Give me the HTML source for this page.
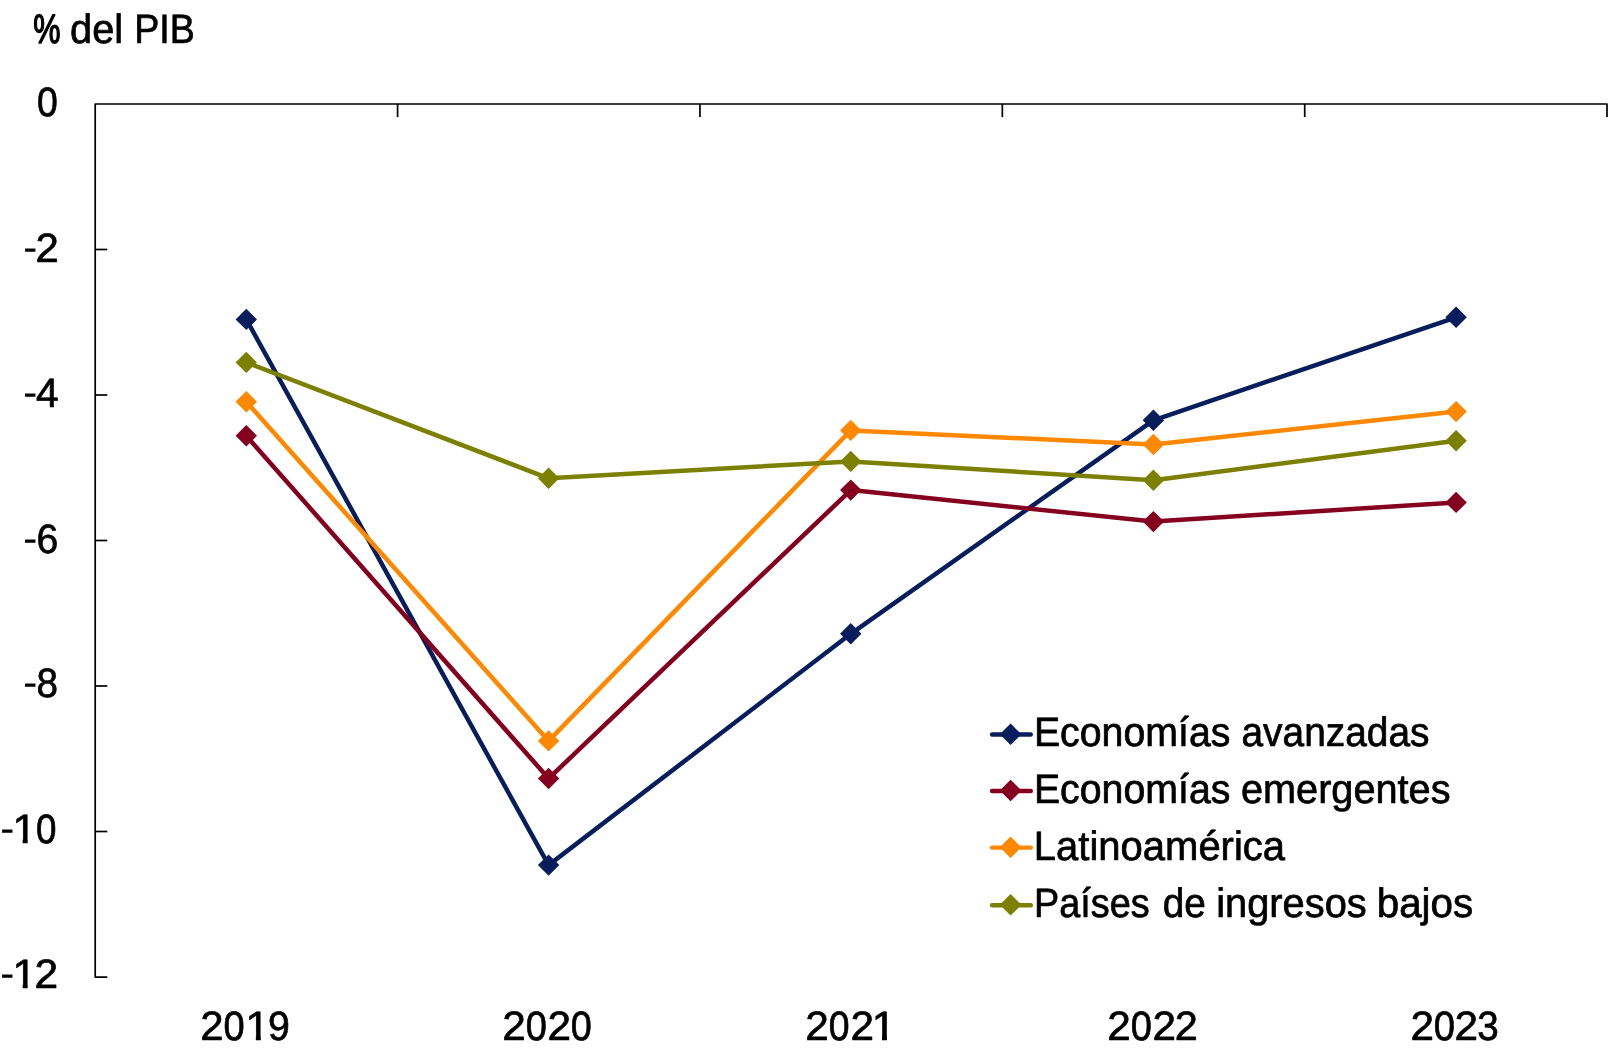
<!DOCTYPE html>
<html><head><meta charset="utf-8"><title>chart</title>
<style>
html,body{margin:0;padding:0;background:#fff;}
body{width:1620px;height:1057px;overflow:hidden;}
svg{display:block;will-change:transform;}
text{font-family:"Liberation Sans",sans-serif;font-size:41px;fill:#000;stroke:#000;stroke-width:0.7px;stroke-linejoin:round;text-rendering:geometricPrecision;}
</style></head><body>
<svg width="1620" height="1057" viewBox="0 0 1620 1057">
<defs><clipPath id="c1"><path d="M-1-32H29V-4.3H14.45V1H9.75V-4.3H-1Z"/></clipPath></defs>
<rect width="1620" height="1057" fill="#fff"/>

<g stroke="#000" stroke-width="1.7" fill="none" stroke-linecap="butt">
<path d="M107.3 977.1H95.2V104.0H1607.0V117.1" stroke-linejoin="round"/>
<path d="M95.2 249.5H107.3"/>
<path d="M95.2 395.0H107.3"/>
<path d="M95.2 540.5H107.3"/>
<path d="M95.2 686.0H107.3"/>
<path d="M95.2 831.5H107.3"/>
<path d="M397.58 104.0V117.1"/>
<path d="M699.96 104.0V117.1"/>
<path d="M1002.34 104.0V117.1"/>
<path d="M1304.72 104.0V117.1"/>
</g>
<polyline points="246.3,319.4 548.6,865.1 850.8,633.8 1153.4,420.3 1456.1,317.3" fill="none" stroke="#081E5C" stroke-width="4.5" stroke-linejoin="round" stroke-linecap="round"/>
<path d="M235.60 319.40L246.30 308.70L257.00 319.40L246.30 330.10ZM537.90 865.10L548.60 854.40L559.30 865.10L548.60 875.80ZM840.05 633.80L850.75 623.10L861.45 633.80L850.75 644.50ZM1142.70 420.30L1153.40 409.60L1164.10 420.30L1153.40 431.00ZM1445.40 317.30L1456.10 306.60L1466.80 317.30L1456.10 328.00Z" fill="#081E5C"/>
<polyline points="246.3,435.8 548.6,778.5 850.8,490.1 1153.4,521.6 1456.1,502.4" fill="none" stroke="#85001F" stroke-width="4.5" stroke-linejoin="round" stroke-linecap="round"/>
<path d="M235.60 435.80L246.30 425.10L257.00 435.80L246.30 446.50ZM537.90 778.50L548.60 767.80L559.30 778.50L548.60 789.20ZM840.05 490.10L850.75 479.40L861.45 490.10L850.75 500.80ZM1142.70 521.60L1153.40 510.90L1164.10 521.60L1153.40 532.30ZM1445.40 502.40L1456.10 491.70L1466.80 502.40L1456.10 513.10Z" fill="#85001F"/>
<polyline points="246.3,401.8 548.6,740.9 850.8,430.4 1153.4,444.5 1456.1,411.6" fill="none" stroke="#FF8800" stroke-width="4.5" stroke-linejoin="round" stroke-linecap="round"/>
<path d="M235.60 401.80L246.30 391.10L257.00 401.80L246.30 412.50ZM537.90 740.90L548.60 730.20L559.30 740.90L548.60 751.60ZM840.05 430.40L850.75 419.70L861.45 430.40L850.75 441.10ZM1142.70 444.50L1153.40 433.80L1164.10 444.50L1153.40 455.20ZM1445.40 411.60L1456.10 400.90L1466.80 411.60L1456.10 422.30Z" fill="#FF8800"/>
<polyline points="246.3,362.4 548.6,478.3 850.8,461.4 1153.4,480.3 1456.1,440.8" fill="none" stroke="#7B8000" stroke-width="4.5" stroke-linejoin="round" stroke-linecap="round"/>
<path d="M235.60 362.40L246.30 351.70L257.00 362.40L246.30 373.10ZM537.90 478.30L548.60 467.60L559.30 478.30L548.60 489.00ZM840.05 461.40L850.75 450.70L861.45 461.40L850.75 472.10ZM1142.70 480.30L1153.40 469.60L1164.10 480.30L1153.40 491.00ZM1445.40 440.80L1456.10 430.10L1466.80 440.80L1456.10 451.50Z" fill="#7B8000"/>
<g><text transform="translate(33.13 43) scale(0.7475 1.0000)" style="stroke-width:1.4px">%</text> <text transform="translate(70.06 43) scale(0.9696 1.0000)">del</text> <text transform="translate(134.13 43) scale(0.9175 1.0000)">PIB</text></g>
<g><text transform="translate(36.96 116) scale(0.9115 1.0000)">0</text></g>
<g><text transform="translate(23.34 261) scale(1.0190 1.0000)" style="stroke-width:0.2px">-</text><text transform="translate(35.50 262) scale(1.0220 1.0000)">2</text></g>
<g><text transform="translate(23.34 406) scale(1.0190 1.0000)" style="stroke-width:0.2px">-</text><text transform="translate(36.11 407) scale(0.9926 1.0000)">4</text></g>
<g><text transform="translate(23.34 552) scale(1.0190 1.0000)" style="stroke-width:0.2px">-</text><text transform="translate(36.44 553) scale(0.9559 1.0000)">6</text></g>
<g><text transform="translate(23.34 696) scale(1.0190 1.0000)" style="stroke-width:0.2px">-</text><text transform="translate(36.55 697) scale(0.9434 1.0000)">8</text></g>
<g><text transform="translate(0.34 842) scale(1.0190 1.0000)" style="stroke-width:0.2px">-</text><text transform="translate(12.45 843) scale(1.0500 1)" clip-path="url(#c1)">1</text><text transform="translate(35.98 843) scale(0.8967 1.0000)">0</text></g>
<g><text transform="translate(0.34 987) scale(1.0190 1.0000)" style="stroke-width:0.2px">-</text><text transform="translate(12.45 988) scale(1.0500 1)" clip-path="url(#c1)">1</text><text transform="translate(34.42 988) scale(1.0375 1.0000)">2</text></g>
<g><text transform="translate(200.25 1040) scale(1.0220 1.0000)">2</text><text transform="translate(223.54 1040) scale(0.9263 1.0000)">0</text><text transform="translate(245.60 1040) scale(1.0500 1)" clip-path="url(#c1)">1</text><text transform="translate(267.89 1040) scale(0.9578 1.0000)">9</text></g>
<g><text transform="translate(502.33 1040) scale(1.0323 1.0000)">2</text><text transform="translate(525.64 1040) scale(0.9263 1.0000)">0</text><text transform="translate(547.53 1040) scale(1.0323 1.0000)">2</text><text transform="translate(570.75 1040) scale(0.9214 1.0000)">0</text></g>
<g><text transform="translate(805.23 1040) scale(1.0323 1.0000)">2</text><text transform="translate(828.86 1040) scale(0.9115 1.0000)">0</text><text transform="translate(850.43 1040) scale(1.0323 1.0000)">2</text><text transform="translate(871.75 1040) scale(1.0500 1)" clip-path="url(#c1)">1</text></g>
<g><text transform="translate(1107.33 1040) scale(1.0323 1.0000)">2</text><text transform="translate(1130.64 1040) scale(0.9263 1.0000)">0</text><text transform="translate(1152.53 1040) scale(1.0323 1.0000)">2</text><text transform="translate(1174.76 1040) scale(1.0116 1.0000)">2</text></g>
<g><text transform="translate(1410.43 1040) scale(1.0323 1.0000)">2</text><text transform="translate(1433.63 1040) scale(0.9312 1.0000)">0</text><text transform="translate(1454.53 1040) scale(1.0323 1.0000)">2</text><text transform="translate(1477.32 1040) scale(0.9410 1.0000)">3</text></g>
<path d="M992.1 734.50H1030.8" stroke="#081E5C" stroke-width="4.4" stroke-linecap="round"/>
<path d="M999.80 734.30L1010.60 723.50L1021.40 734.30L1010.60 745.10Z" fill="#081E5C"/>
<g><text transform="translate(1033.91 746) scale(0.9584 1.0000)">Economías</text> <text transform="translate(1241.47 746) scale(0.9484 1.0000)">avanzadas</text></g>
<path d="M992.1 791.00H1030.8" stroke="#85001F" stroke-width="4.4" stroke-linecap="round"/>
<path d="M999.80 790.50L1010.60 779.70L1021.40 790.50L1010.60 801.30Z" fill="#85001F"/>
<g><text transform="translate(1033.91 803) scale(0.9584 1.0000)">Economías</text> <text transform="translate(1240.95 803) scale(0.9678 1.0000)">emergentes</text></g>
<path d="M992.1 847.60H1030.8" stroke="#FF8800" stroke-width="4.4" stroke-linecap="round"/>
<path d="M999.80 847.30L1010.60 836.50L1021.40 847.30L1010.60 858.10Z" fill="#FF8800"/>
<g><text transform="translate(1033.86 860) scale(0.9754 1.0000)">Latinoamérica</text></g>
<path d="M992.1 905.30H1030.8" stroke="#7B8000" stroke-width="4.4" stroke-linecap="round"/>
<path d="M999.80 904.80L1010.60 894.00L1021.40 904.80L1010.60 915.60Z" fill="#7B8000"/>
<g><text transform="translate(1034.02 917) scale(0.9216 1.0000)">Países</text> <text transform="translate(1162.70 917) scale(0.9449 1.0000)">de</text> <text transform="translate(1216.17 917) scale(0.9713 1.0000)">ingresos</text> <text transform="translate(1376.73 917) scale(0.9842 1.0000)">bajos</text></g>
</svg></body></html>
